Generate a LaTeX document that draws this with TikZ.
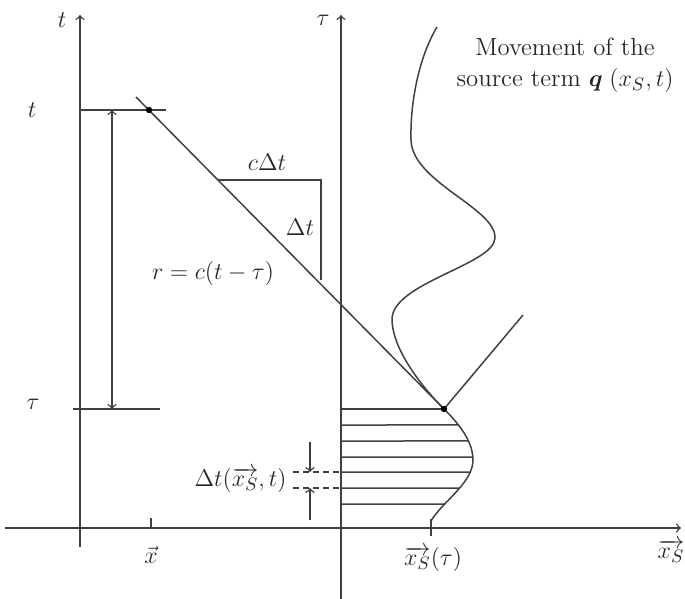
\documentclass[tikz,border=0pt]{standalone}
\usepackage{amsmath}
\usetikzlibrary{intersections}
\begin{document}
\begin{tikzpicture}[x=0.5pt,y=-0.5pt,
  ln/.style={line width=0.75pt,draw=black!75},
  lbl/.style={inner sep=1pt,text=black!85,font=\fontsize{12.4}{15.5}\selectfont},
  >=to]
\useasboundingbox (0,0) rectangle (685,599);
% axes
\coordinate (tbot) at (80,547); \coordinate (ttop) at (80,15);
\coordinate (taubot) at (341,599); \coordinate (tautop) at (341,15);
\coordinate (xl) at (5,528); \coordinate (xr) at (681,528);
\draw[ln,->] (tbot) -- (ttop);
\draw[ln,->] (taubot) -- (tautop);
\draw[ln,->] (xl) -- (xr);
\node[lbl] (tlab) at (62,20) {$t$};
\node[lbl] (taulab) at (323,20) {$\tau$};
\node[lbl] (xslab) at (671,551) {$\overrightarrow{x_S}$};
% tick x
\coordinate (xt1) at (151,518); \coordinate (xt2) at (151,528);
\draw[ln] (xt1) -- (xt2);
\node[lbl] (xlab) at (151,555) {$\vec{x}$};
% t and tau levels
\coordinate (tl) at (80,110); \coordinate (tr) at (166,110);
\coordinate (taul) at (73,409); \coordinate (taur) at (160,409);
\draw[ln] (tl) -- (tr);
\draw[ln] (taul) -- (taur);
\node[lbl] (tleft) at (32,110) {$t$};
\node[lbl] (tauleft) at (33,404) {$\tau$};
\coordinate (da) at (112,110); \coordinate (db) at (112,409);
\draw[ln,<->] (da) -- (db);
% points
\coordinate (P) at (149,110);
\coordinate (Q) at (444,409);
\coordinate (dstart) at (136,97);
\coordinate (up) at (523,315);
\draw[ln] (dstart) -- (Q);
\draw[ln] (Q) -- (up);
% triangle
\coordinate (T1) at (218,180); \coordinate (T2) at (321,180); \coordinate (T3) at (321,280);
\draw[ln] (T1) -- (T2) -- (T3);
\node[lbl] (cdt) at (267,162) {$c\Delta t$};
\node[lbl] (dt) at (300,227) {$\Delta t$};
\node[lbl] (req) at (213,273) {$r=c(t-\tau)$};
% source curve
\coordinate (S0) at (437,27);
\coordinate (S1) at (411,140);
\coordinate (S2) at (495,238);
\coordinate (S3) at (392,320);
\coordinate (S5) at (473,460);
\coordinate (S6) at (431,521);
\draw[ln,name path=src] (S0) .. controls (420,55) and (410,100) .. (S1)
  .. controls (412,182) and (496,208) .. (S2)
  .. controls (494,265) and (391,283) .. (S3)
  .. controls (393,352) and (425,390) .. (Q)
  .. controls (457,422) and (473,440) .. (S5)
  .. controls (473,483) and (442,502) .. (S6);
\coordinate (st1) at (431,519); \coordinate (st2) at (431,536);
\draw[ln] (st1) -- (st2);
\node[lbl] (xstau) at (433,559) {$\overrightarrow{x_S}(\tau)$};
% hatch
\coordinate (h0) at (341,409);
\draw[ln] (h0) -- (Q);
\foreach \yy in {425,441,457,472,488,504}{
  \path[name path=hl] (341,\yy) -- (560,\yy);
  \draw[ln,name intersections={of=src and hl}] (341,\yy) coordinate (hs\yy) -- (intersection-1);
}
% dashed
\coordinate (dd1) at (293,472); \coordinate (dd2) at (293,488);
\draw[ln,dash pattern=on 3pt off 2pt] (dd1) -- (hs472);
\draw[ln,dash pattern=on 3pt off 2pt] (dd2) -- (hs488);
\coordinate (a1) at (310,442); \coordinate (a1t) at (310,472);
\coordinate (a2) at (310,520); \coordinate (a2t) at (310,488);
\draw[ln,->] (a1) -- (a1t);
\draw[ln,->] (a2) -- (a2t);
\node[lbl,anchor=east] (dtl) at (289,480) {$\Delta t(\overrightarrow{x_S},t)$};
% dot
\fill[black] (P) circle[radius=1.6pt];
\fill[black] (Q) circle[radius=1.6pt];
% caption
\node[lbl,align=center] (mov) at (565,65) {Movement of the\\ source term $\boldsymbol{q}\;(x_S,t)$};
\end{tikzpicture}
\end{document}
